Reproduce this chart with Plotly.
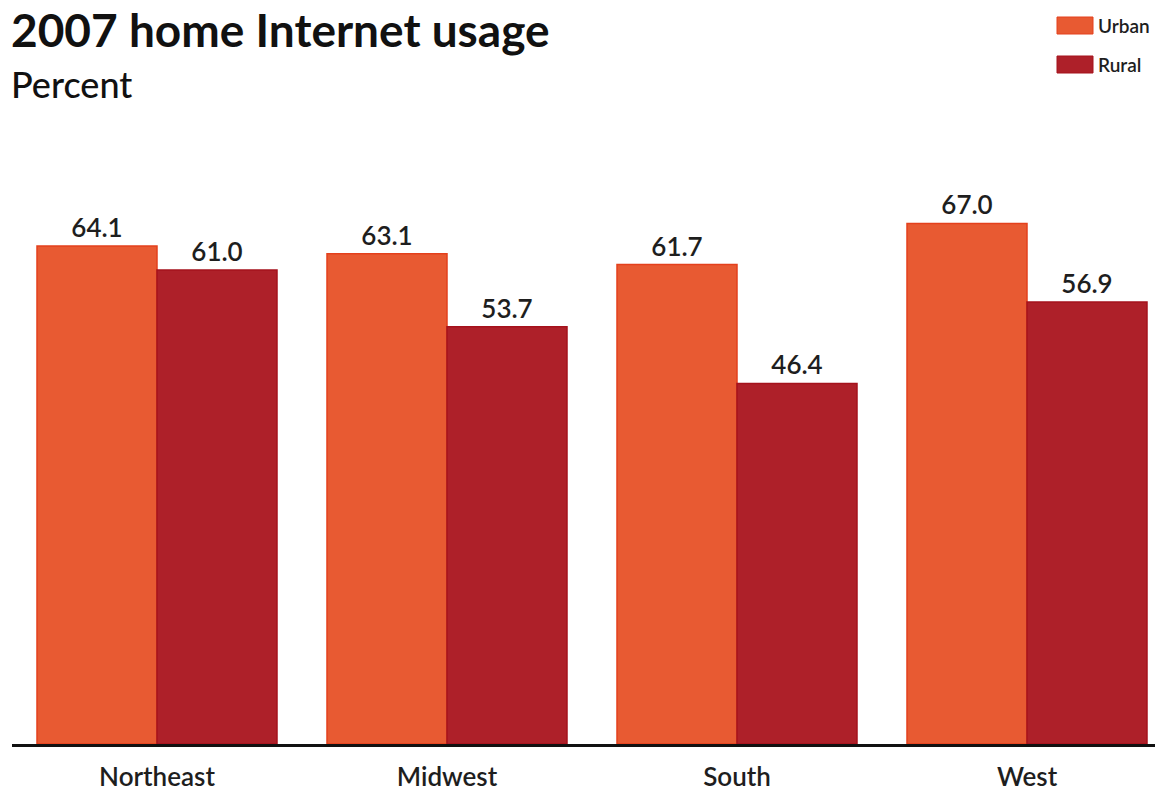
import plotly.graph_objects as go

regions = ["Northeast", "Midwest", "South", "West"]
urban = [64.1, 63.1, 61.7, 67.0]
rural = [61.0, 53.7, 46.4, 56.9]
series_names = ["Urban", "Rural"]
title_text = "2007 home Internet usage"
subtitle_text = "Percent"

# page body has an 8px margin: shift everything by OFF
OFF = 8
W, H = 1163 - OFF, 792 - OFF
ml, mr, mt, mb = 12 - OFF, 0, 150 - OFF, 48
plot_w = W - ml - mr
plot_h = H - mt - mb
cat_px = 290.0
x_max = -0.5 + plot_w / cat_px
px_per_unit = 7.77


def px_x(x):
    return (x - OFF - ml) / plot_w


def px_y(y):
    return (H - mb - (y - OFF)) / plot_h


urban_fill = "#E85A32"
urban_line = "#E4401C"
rural_fill = "#AE2029"
rural_line = "#A5121C"
txt = "#1e1e1e"

fig = go.Figure()
for name, vals, fc, lc in [(series_names[0], urban, urban_fill, urban_line),
                            (series_names[1], rural, rural_fill, rural_line)]:
    fig.add_trace(go.Bar(
        x=regions, y=vals, name=name,
        marker=dict(color=fc, line=dict(color=lc, width=1.5)),
        text=[f"{v:.1f}" for v in vals], textposition="outside",
        textfont=dict(family="Lato", size=26, color=txt, weight=600),
        cliponaxis=False,
    ))

shapes = []
annotations = []
for name, fc, lc, ytop in [(series_names[0], urban_fill, urban_line, 17),
                            (series_names[1], rural_fill, rural_line, 56)]:
    shapes.append(dict(type="rect", xref="paper", yref="paper",
                       x0=px_x(1057), x1=px_x(1093),
                       y0=px_y(ytop + 17), y1=px_y(ytop),
                       fillcolor=fc, line=dict(color=lc, width=1)))
    annotations.append(dict(xref="paper", yref="paper",
                            x=px_x(1096), y=px_y(ytop + 8.5),
                            xanchor="left", yanchor="middle", showarrow=False,
                            text=name,
                            font=dict(family="Lato", size=19, color=txt, weight=600)))

annotations.append(dict(xref="paper", yref="paper", x=px_x(9), y=px_y(0),
                        xanchor="left", yanchor="top", showarrow=False,
                        text=title_text,
                        font=dict(family="Lato", size=46, color="#111111", weight="bold")))
annotations.append(dict(xref="paper", yref="paper", x=px_x(9), y=px_y(60),
                        xanchor="left", yanchor="top", showarrow=False,
                        text=subtitle_text,
                        font=dict(family="Lato", size=36, color="#111111", weight=500)))

fig.update_layout(
    width=W, height=H,
    margin=dict(l=ml, r=mr, t=mt, b=mb, autoexpand=False),
    paper_bgcolor="white", plot_bgcolor="white",
    barmode="group", bargap=50 / 290, bargroupgap=0,
    showlegend=False,
    xaxis=dict(range=[-0.5, x_max], showline=True, linecolor="#111111", linewidth=3,
               ticks="", showgrid=False, ticklabelstandoff=8,
               tickfont=dict(family="Lato", size=26, color=txt, weight=600)),
    yaxis=dict(range=[0, plot_h / px_per_unit], visible=False, showgrid=False),
    shapes=shapes, annotations=annotations,
    font=dict(family="Lato"),
)

fig.write_html("out.html")
